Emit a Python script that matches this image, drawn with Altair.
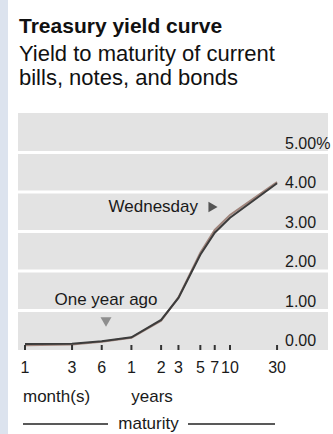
import altair as alt
import pandas as pd

# ---- data ----
maturity_months = [1, 3, 6, 12, 24, 36, 60, 84, 120, 360]
tick_labels = ["1", "3", "6", "1", "2", "3", "5", "7", "10", "30"]
wednesday = [0.15, 0.16, 0.22, 0.32, 0.76, 1.32, 2.41, 2.97, 3.35, 4.22]
one_year_ago = [0.12, 0.14, 0.21, 0.31, 0.74, 1.33, 2.46, 3.04, 3.42, 4.25]
y_values = [0, 1, 2, 3, 4, 5]
y_labels = ["0.00", "1.00", "2.00", "3.00", "4.00", "5.00%"]
title_text = "Treasury yield curve"
subtitle_lines = ["Yield to maturity of current", "bills, notes, and bonds"]

FONT = "Liberation Sans"
W, H = 310, 237

lines_df = pd.concat([
    pd.DataFrame({"maturity": maturity_months, "yield": one_year_ago, "series": "One year ago"}),
    pd.DataFrame({"maturity": maturity_months, "yield": wednesday, "series": "Wednesday"}),
])
ticks_df = pd.DataFrame({"maturity": maturity_months, "label": tick_labels})
ylab_df = pd.DataFrame({"value": y_values, "label": y_labels})

xscale = alt.Scale(type="log", domain=[0.849, 1183], nice=False)
yscale = alt.Scale(domain=[0, 6], nice=False)

base_x = alt.X("maturity:Q", scale=xscale, axis=None)

grid = alt.Chart(pd.DataFrame({"v": [1, 2, 3, 4, 5]})).mark_rule(
    color="white", strokeWidth=3
).encode(y=alt.Y("v:Q", scale=yscale, axis=None))

curves = alt.Chart(lines_df).mark_line(strokeWidth=2).encode(
    x=base_x,
    y=alt.Y("yield:Q", scale=yscale, axis=None),
    color=alt.Color("series:N", scale=alt.Scale(domain=["One year ago", "Wednesday"],
                                                range=["#a0857c", "#3c3c3c"]), legend=None),
    order=alt.Order("maturity:Q"),
)

tick_marks = alt.Chart(ticks_df).mark_rule(color="#333333", strokeWidth=2).encode(
    x=base_x, y=alt.value(H - 5), y2=alt.value(H)
)

tick_text = alt.Chart(ticks_df).mark_text(
    font=FONT, fontSize=16, color="#1a1a1a", baseline="alphabetic", align="center"
).encode(x=base_x, y=alt.value(H + 23), text="label:N")

ylab_text = alt.Chart(ylab_df).mark_text(
    font=FONT, fontSize=16, color="#1a1a1a", baseline="middle", align="left", dy=-9
).encode(x=alt.value(267), y=alt.Y("value:Q", scale=yscale, axis=None), text="label:N")

def label(txt, x, y, size=17, align="left", baseline="alphabetic", color="#1a1a1a", weight="normal"):
    return alt.Chart(pd.DataFrame({"t": [txt]})).mark_text(
        font=FONT, fontSize=size, align=align, baseline=baseline, color=color, fontWeight=weight
    ).encode(x=alt.value(x), y=alt.value(y), text="t:N")

def rule(x1, x2, y1, y2, color="#222222", w=1.5):
    return alt.Chart(pd.DataFrame({"a": [0]})).mark_rule(color=color, strokeWidth=w).encode(
        x=alt.value(x1), x2=alt.value(x2), y=alt.value(y1), y2=alt.value(y2)
    )

def tri(shape, x, y, color, size):
    return alt.Chart(pd.DataFrame({"a": [0]})).mark_point(
        shape=shape, filled=True, color=color, size=size, opacity=1
    ).encode(x=alt.value(x), y=alt.value(y))

annotations = [
    label(title_text, 1, -80, size=21, weight="bold", color="#111111"),
    label(subtitle_lines[0], 1, -52.5, size=22, color="#111111"),
    label(subtitle_lines[1], 1, -28, size=22, color="#111111"),
    label("Wednesday", 180, 94, baseline="middle", align="right"),
    tri("triangle-right", 195, 94, "#555555", 110),
    label("One year ago", 88, 187, baseline="middle", align="center"),
    tri("triangle-down", 88, 209, "#8e8e8e", 120),
    label("month(s)", 5, 289, size=17, align="left"),
    label("years", 134, 289, size=17, align="center"),
    label("maturity", 130.5, 316, size=17, align="center"),
    rule(5, 90, 311, 311),
    rule(170, 257, 311, 311),
]

strip = alt.Chart(pd.DataFrame({"a": [0]})).mark_rect(color="#dce3ee").encode(
    x=alt.value(-18), x2=alt.value(-10), y=alt.value(-113), y2=alt.value(H + 84)
)

chart = alt.layer(
    strip, grid, curves, tick_marks, tick_text, ylab_text, *annotations
).properties(
    width=W,
    height=H,
    padding={"left": 18, "top": 113, "right": 5, "bottom": 84},
    autosize=alt.AutoSizeParams(type="none"),
    background="white",
).configure_view(fill="#e3e3e3", stroke=None)

chart.save("out.html", embed_options={"renderer": "svg", "actions": False})
